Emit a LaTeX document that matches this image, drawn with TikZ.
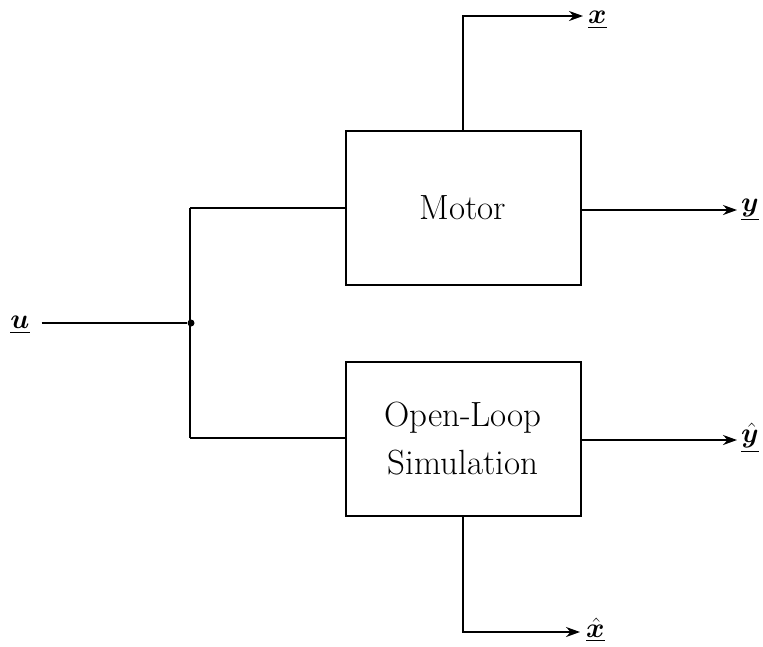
\documentclass[tikz,border=0pt]{standalone}
\usepackage{fix-cm}
\usepackage{amsmath,bm}
\usepackage{fontspec}
\usetikzlibrary{arrows.meta}
\begin{document}
\begin{tikzpicture}[x=1pt,y=-1pt,
  blk/.style={draw,line width=2pt,minimum width=235pt,minimum height=154pt,align=center,inner sep=0pt,font=\fontsize{35}{48}\selectfont},
  wire/.style={line width=1.8pt},
  arr/.style={wire,-{Stealth[length=14pt,width=10pt]}},
  lbl/.style={inner sep=0pt,font=\fontsize{28}{32}\selectfont}]
\useasboundingbox (0,0) rectangle (763,646);
\node[blk] (motor) at (463,208) {Motor};
\node[blk] (sim) at (463,438.5) {Open-Loop\\Simulation};
\node[lbl] (u) at (20,325) {$\underline{\bm u}$};
\node[fill,circle,inner sep=0pt,minimum size=7pt] (j) at (191,323) {};
\coordinate (jt) at (190,208);
\coordinate (jb) at (190,438);
\draw[wire] (u.east) ++(12,-2) coordinate (us) (us) -- (j);
\draw[wire] (jt) -- (jb);
\draw[wire] (jt) -- (motor.west |- jt);
\draw[wire] (jb) -- (sim.west |- jb);
% outputs
\node[lbl,anchor=west] (y) at (741,210) {$\underline{\bm y}$};
\node[lbl,anchor=west] (yh) at (741,438) {$\underline{\hat{\bm y}}$};
\node[lbl,anchor=west] (x) at (588,20) {$\underline{\bm x}$};
\node[lbl,anchor=west] (xh) at (586,630) {$\underline{\hat{\bm x}}$};
\coordinate (ye) at (737,210);
\coordinate (yhe) at (737,440);
\draw[arr] (motor.east |- ye) -- (ye);
\draw[arr] (sim.east |- yhe) -- (yhe);
\coordinate (xc) at (463,16);
\coordinate (xe) at (583,16);
\draw[arr] (motor.north) -- (xc) -- (xe);
\coordinate (xhc) at (463,632);
\coordinate (xhe) at (580,632);
\draw[arr] (sim.south) -- (xhc) -- (xhe);
\end{tikzpicture}
\end{document}
